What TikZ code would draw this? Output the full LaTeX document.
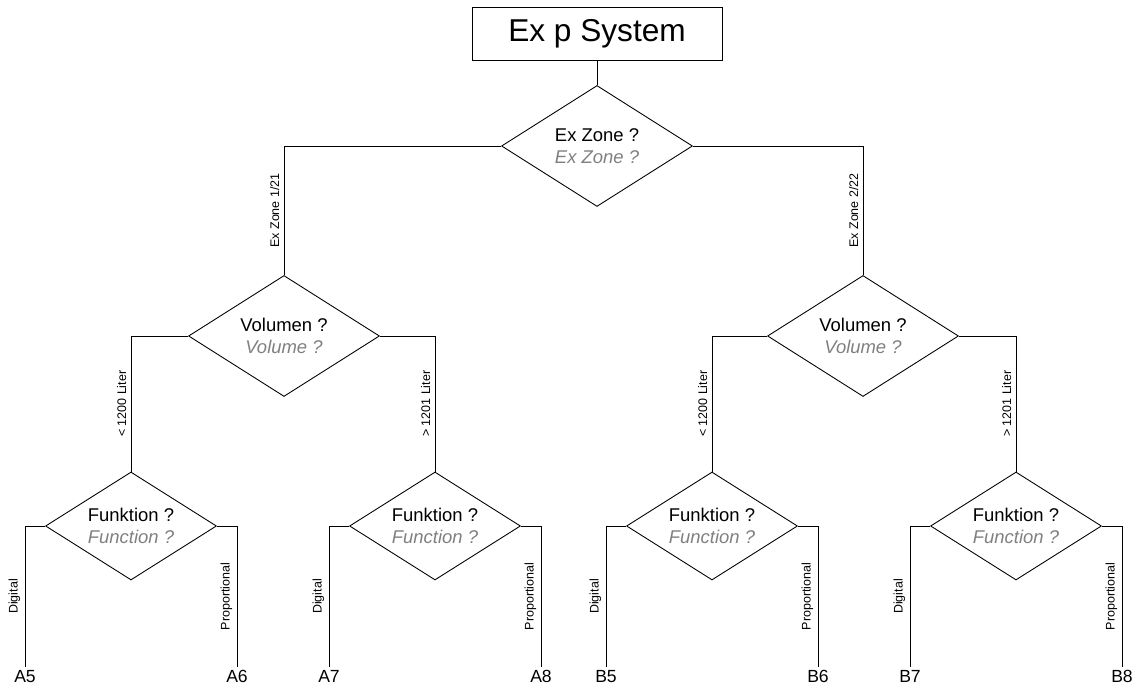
\documentclass[tikz,border=0pt]{standalone}
\usepackage{fontspec}
\setmainfont{Liberation Sans}
\usetikzlibrary{shapes.geometric}

\definecolor{engl}{gray}{0.5}

\tikzset{
  titlebox/.style={draw, minimum width=5cm, minimum height=1.06cm, inner sep=0pt,
    font=\fontsize{18}{21}\selectfont},
  question/.style={draw, diamond, aspect=1.6, inner sep=0pt, align=center,
    font=\fontsize{10.5}{12.6}\selectfont},
  bigq/.style={question, minimum width=3.82cm, minimum height=2.42cm},
  smallq/.style={question, minimum width=3.42cm, minimum height=2.16cm},
  branch/.style={rotate=90, anchor=south, inner sep=2.5pt,
    font=\fontsize{7.1}{8.5}\selectfont},
  leaf/.style={anchor=north, inner sep=1.5pt, font=\fontsize{10}{12}\selectfont},
}

\begin{document}
\begin{tikzpicture}[x=0.02cm, y=-0.02cm, line width=0.5pt]

\useasboundingbox (0,0) rectangle (1136,688);

\def\armx{106} % distance from diamond centre to outgoing line
\def\leafy{667} % end of the last lines

% top
\node[titlebox] (sys) at (597,33.5) {Ex p System};
\node[bigq] (zone) at (597,146) {Ex Zone ?\\ \color{engl}\itshape Ex Zone ?};
\draw (sys) -- (zone);

% second level
\node[bigq] (volA) at (284,336) {Volumen ?\\ \color{engl}\itshape Volume ?};
\node[bigq] (volB) at (863,336) {Volumen ?\\ \color{engl}\itshape Volume ?};
\draw (zone.west) -| (volA.north) node[branch, pos=0.75] {Ex Zone 1/21};
\draw (zone.east) -| (volB.north) node[branch, pos=0.75] {Ex Zone 2/22};

% third level
\foreach \c/\name in {131/fnA1, 435/fnA2, 712/fnB1, 1016/fnB2} {
    \node[smallq] (\name) at (\c,526) {Funktion ?\\ \color{engl}\itshape Function ?};
}
\draw (volA.west) -| (fnA1.north) node[branch, pos=0.75] {< 1200 Liter};
\draw (volA.east) -| (fnA2.north) node[branch, pos=0.75] {> 1201 Liter};
\draw (volB.west) -| (fnB1.north) node[branch, pos=0.75] {< 1200 Liter};
\draw (volB.east) -| (fnB2.north) node[branch, pos=0.75] {> 1201 Liter};

% leaves
\foreach \c/\name/\l/\r in {131/fnA1/A5/A6, 435/fnA2/A7/A8, 712/fnB1/B5/B6, 1016/fnB2/B7/B8} {
    \coordinate (\l end) at (\c-\armx,\leafy);
    \coordinate (\r end) at (\c+\armx,\leafy);
    \draw (\name.west) -| (\l end) node[branch, pos=0.75] {Digital};
    \draw (\name.east) -| (\r end) node[branch, pos=0.75] {Proportional};
    \node[leaf] (\l) at (\l end) {\l};
    \node[leaf] (\r) at (\r end) {\r};
}

\end{tikzpicture}
\end{document}
